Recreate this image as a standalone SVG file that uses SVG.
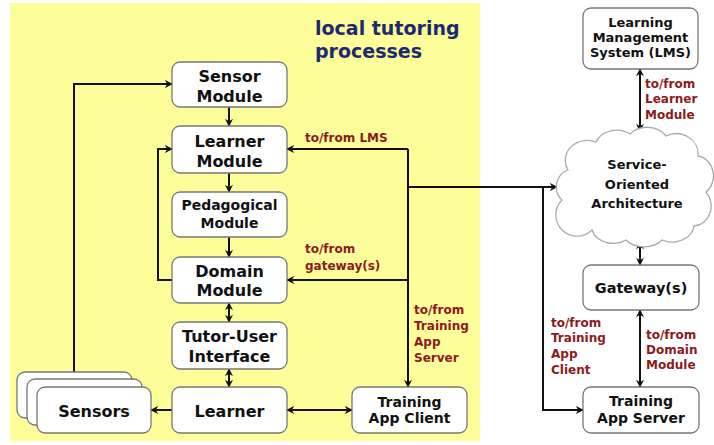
<svg xmlns="http://www.w3.org/2000/svg" width="714" height="445" viewBox="0 0 714 445">
<defs>
<marker id="ah" viewBox="0 0 10 10" refX="9" refY="5" markerWidth="8" markerHeight="8" markerUnits="userSpaceOnUse" orient="auto-start-reverse">
<path d="M0,0 L10,5 L0,10 L3,5 z" fill="#111"/>
</marker>
</defs>
<style>
.box{fill:#fff;stroke:#777;stroke-width:1.3}
.t{font-family:"DejaVu Sans",Verdana,sans-serif;font-weight:bold;fill:#111;text-anchor:middle}
.r{font-family:"DejaVu Sans",Verdana,sans-serif;font-weight:bold;fill:#8b1a22;font-size:12px}
.ln{fill:none;stroke:#111;stroke-width:2}
.a1{marker-end:url(#ah)}
.a2{marker-start:url(#ah);marker-end:url(#ah)}
</style>
<rect x="10" y="3" width="470" height="438" fill="#fdfd9a"/>
<text x="315" y="35" font-family="DejaVu Sans,Verdana,sans-serif" font-weight="bold" font-size="19" fill="#1c2a6e">local tutoring</text>
<text x="315" y="58" font-family="DejaVu Sans,Verdana,sans-serif" font-weight="bold" font-size="19" fill="#1c2a6e">processes</text>

<g id="connectors">
<path class="ln a1" d="M74,372 V84 H172"/>
<path class="ln a1" d="M229,107 V126"/>
<path class="ln a1" d="M229,173 V192"/>
<path class="ln a1" d="M229,237 V257"/>
<path class="ln a2" d="M229,303 V322"/>
<path class="ln a2" d="M229,369 V387"/>
<path class="ln a1" d="M172,280 H158 V149 H172"/>
<path class="ln a1" d="M172,410 H151"/>
<path class="ln a2" d="M287,410 H352"/>
<path class="ln a1" d="M408,149 H287"/>
<path class="ln a1" d="M408,149 V387"/>
<path class="ln a1" d="M408,280 H287"/>
<path class="ln a1" d="M408,187 H557"/>
<path class="ln a1" d="M543,187 V410 H583"/>
<path class="ln a2" d="M640,69 V131"/>
<path class="ln a2" d="M640,242 V265"/>
<path class="ln a2" d="M640,310 V387"/>
</g>

<g id="sensor-module"><rect class="box" x="172" y="62" width="115" height="45" rx="8"/><text class="t" font-size="16" x="229.5" y="82">Sensor</text><text class="t" font-size="16" x="229.5" y="102">Module</text></g>
<g id="learner-module"><rect class="box" x="172" y="126" width="115" height="47" rx="8"/><text class="t" font-size="16" x="229.5" y="147">Learner</text><text class="t" font-size="16" x="229.5" y="167">Module</text></g>
<g id="pedagogical-module"><rect class="box" x="172" y="192" width="115" height="45" rx="8"/><text class="t" font-size="14" x="229.5" y="210">Pedagogical</text><text class="t" font-size="14" x="229.5" y="228">Module</text></g>
<g id="domain-module"><rect class="box" x="172" y="257" width="115" height="46" rx="8"/><text class="t" font-size="16" x="229.5" y="277">Domain</text><text class="t" font-size="16" x="229.5" y="296">Module</text></g>
<g id="tutor-user-interface"><rect class="box" x="172" y="322" width="115" height="47" rx="8"/><text class="t" font-size="16" x="229.5" y="342">Tutor-User</text><text class="t" font-size="16" x="229.5" y="362">Interface</text></g>
<g id="learner"><rect class="box" x="172" y="387" width="115" height="46" rx="8"/><text class="t" font-size="16" x="229.5" y="417">Learner</text></g>
<g id="sensors">
<rect class="box" x="17" y="372" width="115" height="46" rx="8"/>
<rect class="box" x="27" y="379" width="115" height="46" rx="8"/>
<rect class="box" x="37" y="387" width="114" height="46" rx="8"/>
<text class="t" font-size="16" x="94" y="417">Sensors</text></g>
<g id="training-app-client"><rect class="box" x="352" y="387" width="115" height="46" rx="8"/><text class="t" font-size="14" x="409.5" y="407">Training</text><text class="t" font-size="14" x="409.5" y="423">App Client</text></g>

<g id="lms"><rect class="box" x="583" y="8" width="115" height="61" rx="8"/><text class="t" font-size="13" x="640.5" y="27">Learning</text><text class="t" font-size="13" x="640.5" y="42">Management</text><text class="t" font-size="13" x="640.5" y="57">System (LMS)</text></g>
<g id="soa"><path d="M562,200 a18,18 0 0 1 6,-30 a22,20 0 0 1 28,-28 a22,18 0 0 1 34,-8 a22,18 0 0 1 36,2 a22,20 0 0 1 32,20 a18,20 0 0 1 8,36 a18,20 0 0 1 -12,34 a22,18 0 0 1 -32,14 a22,16 0 0 1 -36,0 a22,18 0 0 1 -34,-10 a18,18 0 0 1 -30,-30 z" fill="#fff" stroke="#aaa" stroke-width="1.3"/>
<text class="t" font-size="13" x="637" y="169">Service-</text><text class="t" font-size="13" x="637" y="189">Oriented</text><text class="t" font-size="13" x="637" y="208">Architecture</text></g>
<g id="gateways"><rect class="box" x="583" y="265" width="116" height="45" rx="8"/><text class="t" font-size="14.5" x="641" y="293">Gateway(s)</text></g>
<g id="training-app-server"><rect class="box" x="583" y="387" width="116" height="46" rx="8"/><text class="t" font-size="14" x="641" y="406">Training</text><text class="t" font-size="14" x="641" y="423">App Server</text></g>

<g id="labels">
<text class="r" x="305" y="142">to/from LMS</text>
<text class="r" x="305" y="253">to/from</text><text class="r" x="305" y="270">gateway(s)</text>
<text class="r" x="414" y="314">to/from</text><text class="r" x="414" y="330">Training</text><text class="r" x="414" y="346">App</text><text class="r" x="414" y="362">Server</text>
<text class="r" x="645" y="88">to/from</text><text class="r" x="645" y="103">Learner</text><text class="r" x="645" y="119">Module</text>
<text class="r" x="646" y="339">to/from</text><text class="r" x="646" y="354">Domain</text><text class="r" x="646" y="369">Module</text>
<text class="r" x="551" y="327">to/from</text><text class="r" x="551" y="342">Training</text><text class="r" x="551" y="358">App</text><text class="r" x="551" y="374">Client</text>
</g>
</svg>
